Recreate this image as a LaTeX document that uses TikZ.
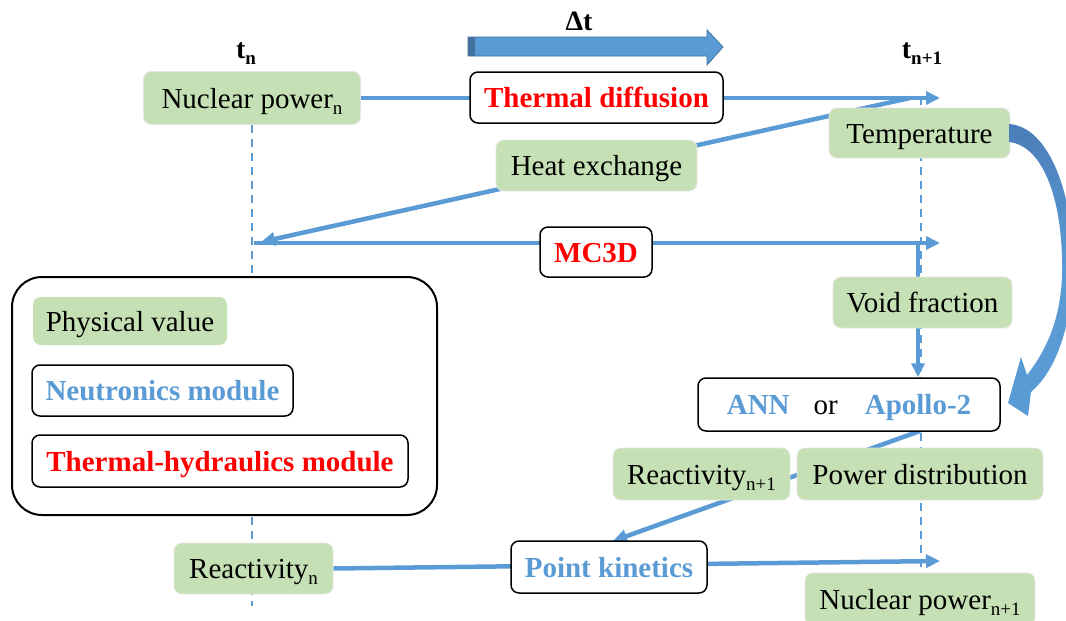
\documentclass[tikz,border=0pt]{standalone}
\usepackage{fontspec}
\setmainfont{Liberation Serif}
\usetikzlibrary{arrows.meta,backgrounds,calc}
\definecolor{lblue}{HTML}{5B9BD5}
\definecolor{dblue}{HTML}{41719C}
\definecolor{mblue}{HTML}{4A7DB8}
\definecolor{lgreen}{HTML}{C5E0B4}
\definecolor{myred}{HTML}{FF0000}
\newcommand\mysub[1]{\raisebox{-6pt}{\fontsize{19}{20}\selectfont #1}}
\begin{document}
\begin{tikzpicture}[x=1pt,y=-1pt,
  txt/.style={font=\fontsize{29}{32}\selectfont, inner sep=0pt, text height=20pt, text depth=0pt},
  phys/.style={txt, fill=lgreen, draw=black!10, line width=0.8pt, rounded corners=8pt},
  modbox/.style={txt, fill=white, draw=black, line width=1.5pt, rounded corners=8pt, font=\fontsize{29}{32}\selectfont\bfseries},
  conn/.style={draw=lblue, line width=4.5pt},
  arr/.style={conn, -{Triangle[length=14pt,width=13pt]}},
  dash line/.style={draw=lblue, line width=2pt, dash pattern=on 8pt off 6pt},
]
\useasboundingbox (0,0) rectangle (1066,621);

% time labels
\node[txt, font=\fontsize{28}{32}\selectfont\bfseries] (tn) at (246,48) {t\mysub{n}};
\node[txt, font=\fontsize{28}{32}\selectfont\bfseries] (tn1) at (922,48) {t\mysub{n+1}};
\node[txt, font=\fontsize{28}{32}\selectfont\bfseries] (dt) at (579,20) {Δt};

% big time arrow
\filldraw[fill=lblue, draw=dblue, line width=0.8pt]
  (468,37) -- (707,37) -- (707,30) -- (723,47) -- (707,65) -- (707,56) -- (468,56) -- cycle;
\fill[dblue] (468,37.4) rectangle (475,55.6);

% legend
\node[draw=black, line width=2pt, rounded corners=30pt, fill=white,
      minimum width=425pt, minimum height=238pt, inner sep=0pt] (legend) at (224.5,396) {};
\node[phys, minimum width=194pt, minimum height=48pt, draw=none] (pv) at (130,321) {Physical value};
\node[modbox, minimum width=261pt, minimum height=51pt] (nm) at (162.5,390.5) {\color{lblue}Neutronics module};
\node[modbox, minimum width=376pt, minimum height=52pt] (th) at (220,461) {\color{myred}Thermal-hydraulics module};

% nodes
\node[phys, minimum width=217pt, minimum height=53pt] (npn) at (252,98) {Nuclear power\mysub{n}};
\node[modbox, minimum width=253pt, minimum height=51pt] (td) at (596.5,97.5) {\color{myred}Thermal diffusion};
\node[phys, minimum width=181pt, minimum height=50pt] (temp) at (919.5,133) {Temperature};
\node[phys, minimum width=201pt, minimum height=51pt] (hx) at (596.5,165.5) {Heat exchange};
\node[modbox, minimum width=112pt, minimum height=50pt] (mc) at (596,252) {\color{myred}MC3D};
\node[phys, minimum width=179pt, minimum height=51pt] (vf) at (922.5,302.5) {Void fraction};
\node[modbox, minimum width=302pt, minimum height=53pt] (ann) at (849,404.5)
  {{\color{lblue}ANN}\hspace{24pt}{\mdseries or}\hspace{27pt}{\color{lblue}Apollo-2}};
\node[phys, minimum width=177pt, minimum height=52pt] (r1) at (701.5,474) {Reactivity\mysub{n+1}};
\node[phys, minimum width=246pt, minimum height=52pt] (pd) at (920,474) {Power distribution};
\node[phys, minimum width=159pt, minimum height=51pt] (rn) at (253.5,568.5) {Reactivity\mysub{n}};
\node[modbox, minimum width=196pt, minimum height=52pt] (pk) at (609,567) {\color{lblue}Point kinetics};
\node[phys, minimum width=230pt, minimum height=52pt] (np1) at (920,599) {Nuclear power\mysub{n+1}};

% coordinates
\coordinate (tnbot) at (252,606);
\coordinate (t1top) at (921,97);
\coordinate (t1bot) at (921,598);
\coordinate (tdend) at (940,98);
\coordinate (hxstart) at (910,98);
\coordinate (hxend) at (261,242);
\coordinate (mcstart) at (254,243);
\coordinate (mcend) at (940,243);
\coordinate (mcjoin) at (918,243);
\coordinate (annout) at (920,431);
\coordinate (pkin) at (613,541);
\coordinate (pkend) at (940,561);

\begin{scope}[on background layer]
  \draw[dash line] (npn.south) -- (tnbot);
  \draw[dash line] (t1top) -- (t1bot);
  \draw[arr] (npn.east) -- (tdend);
  \draw[arr] (hxstart) -- (hxend);
  \draw[arr] (mcstart) -- (mcend);
  \draw[conn] (mcjoin) -- (mcjoin |- vf.north);
  \draw[arr] (mcjoin |- vf.south) -- (mcjoin |- ann.north);
  \draw[arr] (annout) -- (pkin);
  \draw[arr] (rn.east) -- (pkend);
\end{scope}

% curved feedback arrow (tapered block arrow)
\shade[top color=mblue, bottom color=lblue, middle color=lblue, draw=none]
  (1009,124) .. controls (1055,127) and (1079,215) .. (1072,290)
  .. controls (1067,340) and (1052,374) .. (1031,392)
  -- (1028,416) -- (1008,403) -- (1021,357) -- (1027,375)
  .. controls (1045,352) and (1060,322) .. (1062,277)
  .. controls (1064,205) and (1045,146) .. (1009,142) -- cycle;

\end{tikzpicture}
\end{document}
